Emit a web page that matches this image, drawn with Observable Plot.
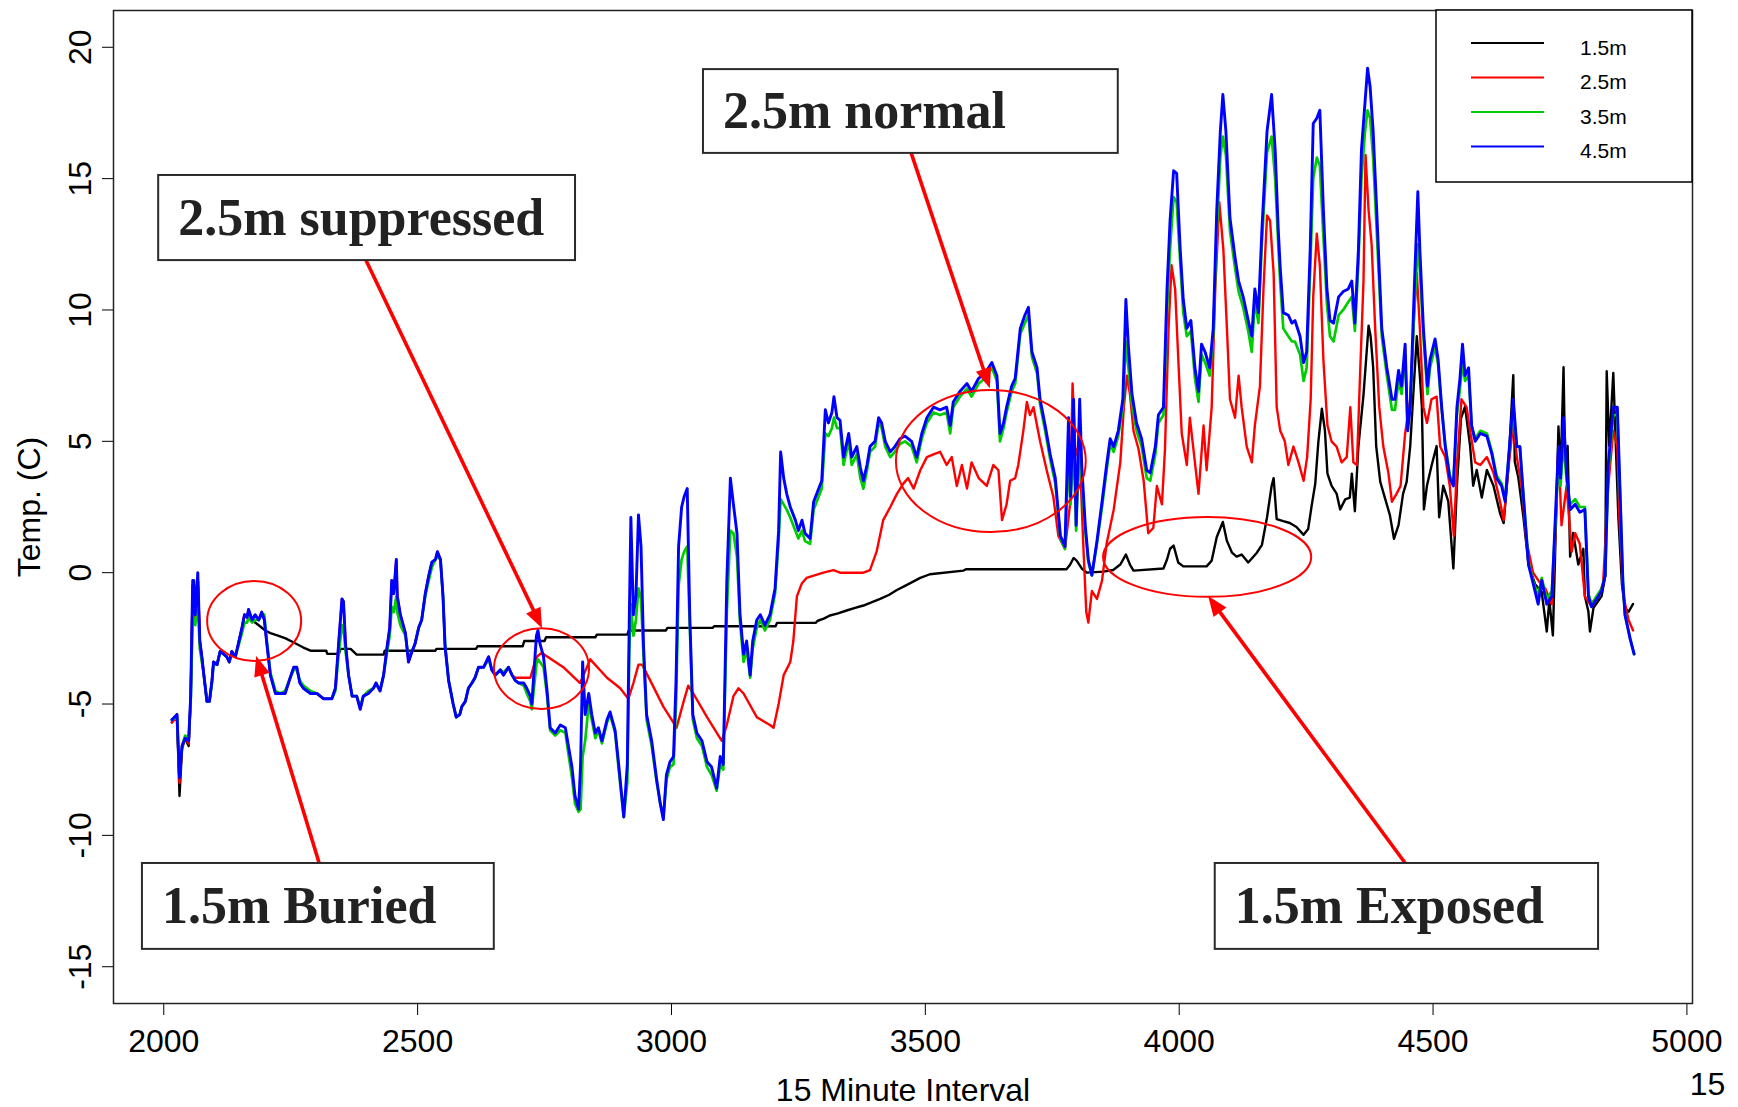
<!DOCTYPE html>
<html><head><meta charset="utf-8">
<script src="https://cdn.jsdelivr.net/npm/d3@7"></script>
<script src="https://cdn.jsdelivr.net/npm/@observablehq/plot@0.6"></script>
<style>body{margin:0;background:#fff}</style>
</head><body><div id="chart"></div>
<script>
// ---- data: [15-minute interval, temperature C] ----
const blue = [[2016,-5.6],[2026,-5.4],[2031,-7.8],[2036,-6.6],[2042,-6.3],[2049,-6.4],[2053,-4.7],[2057,-0.3],[2059,-0.3],[2062,-1.6],[2067,0.0],[2071,-2.6],[2075,-3.2],[2079,-3.9],[2085,-4.9],[2090,-4.9],[2095,-4.1],[2098,-3.4],[2105,-3.5],[2111,-3.0],[2118,-3.1],[2124,-3.2],[2129,-3.4],[2134,-3.0],[2141,-3.2],[2147,-2.7],[2154,-2.1],[2159,-1.6],[2164,-1.7],[2167,-1.4],[2174,-1.8],[2180,-1.6],[2187,-1.8],[2193,-1.5],[2198,-1.8],[2203,-2.7],[2210,-3.9],[2220,-4.6],[2229,-4.6],[2239,-4.6],[2249,-4.0],[2256,-3.6],[2262,-3.6],[2268,-4.2],[2275,-4.4],[2289,-4.6],[2302,-4.6],[2315,-4.8],[2331,-4.8],[2338,-4.4],[2344,-2.8],[2351,-1.0],[2354,-1.1],[2358,-2.7],[2364,-3.9],[2371,-4.7],[2380,-4.7],[2387,-5.2],[2393,-4.7],[2403,-4.6],[2413,-4.4],[2418,-4.2],[2426,-4.5],[2433,-3.9],[2440,-2.8],[2445,-2.1],[2449,-0.3],[2453,-0.8],[2458,0.5],[2460,-0.9],[2466,-1.6],[2476,-2.3],[2482,-3.4],[2489,-3.0],[2495,-2.7],[2502,-2.1],[2508,-1.8],[2515,-0.8],[2522,-0.1],[2528,0.4],[2535,0.5],[2539,0.8],[2545,0.5],[2550,-0.9],[2554,-2.8],[2561,-4.1],[2570,-5.0],[2576,-5.5],[2583,-5.4],[2587,-5.1],[2594,-4.9],[2600,-4.4],[2607,-4.2],[2613,-4.0],[2620,-3.6],[2630,-3.6],[2640,-3.2],[2646,-3.7],[2653,-3.9],[2663,-3.7],[2669,-3.9],[2679,-3.6],[2686,-3.9],[2692,-4.1],[2699,-4.2],[2709,-4.2],[2715,-4.4],[2722,-4.7],[2725,-5.0],[2728,-4.1],[2734,-2.4],[2737,-2.2],[2741,-2.7],[2748,-3.2],[2755,-4.5],[2761,-5.9],[2771,-6.1],[2781,-5.8],[2791,-5.9],[2797,-6.6],[2804,-7.4],[2810,-8.5],[2817,-9.0],[2821,-7.3],[2825,-3.4],[2830,-5.4],[2837,-4.6],[2843,-5.4],[2850,-6.1],[2856,-5.9],[2863,-6.4],[2873,-5.6],[2879,-5.3],[2889,-6.0],[2896,-7.3],[2906,-9.3],[2913,-7.3],[2917,-1.6],[2920,2.1],[2925,-1.6],[2930,-0.9],[2935,2.2],[2940,1.0],[2945,-2.8],[2951,-5.4],[2961,-6.4],[2971,-7.9],[2978,-8.8],[2984,-9.4],[2990,-7.7],[2997,-7.2],[3004,-7.0],[3009,-4.1],[3014,1.0],[3020,2.5],[3025,2.9],[3031,3.2],[3036,-1.6],[3042,-5.4],[3050,-6.1],[3060,-6.4],[3070,-7.2],[3079,-7.4],[3089,-8.2],[3096,-7.0],[3102,-7.3],[3109,-0.3],[3116,3.6],[3122,2.6],[3129,1.5],[3135,-1.6],[3142,-3.1],[3148,-2.6],[3155,-3.9],[3160,-2.6],[3168,-1.8],[3175,-1.6],[3184,-2.0],[3194,-1.6],[3204,-0.6],[3211,1.6],[3215,4.6],[3221,3.6],[3227,3.0],[3234,2.5],[3244,2.0],[3250,1.6],[3257,2.0],[3263,1.5],[3273,1.3],[3280,2.7],[3286,3.0],[3296,3.5],[3303,6.2],[3309,5.7],[3316,6.1],[3320,6.7],[3326,5.9],[3332,5.8],[3339,4.4],[3349,5.3],[3355,4.4],[3365,4.8],[3372,4.0],[3378,3.5],[3385,4.1],[3391,4.8],[3401,5.0],[3408,5.9],[3414,5.7],[3421,5.0],[3431,4.6],[3440,4.8],[3450,5.1],[3460,5.2],[3473,5.0],[3483,4.4],[3493,5.3],[3503,5.9],[3516,6.3],[3529,6.2],[3542,6.3],[3549,5.6],[3555,6.5],[3568,6.9],[3582,7.2],[3591,6.9],[3605,7.4],[3618,7.6],[3631,8.0],[3641,7.5],[3647,5.3],[3654,5.7],[3660,6.3],[3670,7.1],[3677,7.4],[3687,9.3],[3696,9.8],[3703,10.1],[3710,8.4],[3720,7.8],[3726,6.6],[3736,5.6],[3746,4.5],[3756,3.6],[3766,1.4],[3775,1.0],[3782,5.9],[3786,2.9],[3792,6.6],[3797,1.8],[3804,6.6],[3808,4.1],[3815,1.8],[3821,0.5],[3828,-0.1],[3838,1.2],[3848,2.7],[3857,4.1],[3864,5.1],[3871,4.8],[3880,5.4],[3889,6.6],[3895,10.4],[3900,8.6],[3907,6.8],[3916,5.7],[3926,5.1],[3936,3.9],[3943,3.8],[3953,4.8],[3959,6.0],[3969,6.3],[3976,10.8],[3982,13.4],[3989,15.3],[3995,15.2],[4002,12.3],[4008,10.4],[4015,9.3],[4023,9.6],[4031,7.8],[4038,6.9],[4044,8.7],[4051,8.4],[4060,7.8],[4067,9.3],[4074,13.8],[4081,16.8],[4086,18.2],[4092,16.8],[4100,13.5],[4110,12.0],[4117,11.1],[4126,10.5],[4136,9.6],[4143,9.0],[4149,10.8],[4156,9.9],[4163,13.1],[4173,16.8],[4182,18.2],[4189,16.1],[4195,13.1],[4199,11.6],[4205,9.9],[4215,9.8],[4222,9.5],[4228,9.6],[4238,9.0],[4245,8.0],[4251,8.4],[4258,12.3],[4264,17.1],[4271,17.3],[4277,17.6],[4284,13.8],[4291,10.8],[4297,9.6],[4304,9.5],[4314,10.5],[4323,10.7],[4333,10.8],[4340,11.1],[4346,9.5],[4353,12.3],[4359,16.1],[4366,17.9],[4371,19.2],[4376,18.5],[4382,16.8],[4389,13.8],[4399,9.3],[4409,7.8],[4419,6.6],[4425,6.6],[4432,7.7],[4438,7.1],[4445,8.7],[4450,5.4],[4455,6.3],[4463,10.8],[4470,14.5],[4474,12.3],[4481,9.3],[4489,7.1],[4494,8.1],[4504,8.9],[4510,8.1],[4517,6.3],[4524,4.8],[4533,3.6],[4540,3.3],[4547,6.3],[4553,7.4],[4558,8.7],[4563,7.5],[4570,7.8],[4576,5.6],[4583,5.0],[4593,5.3],[4606,5.2],[4616,4.5],[4625,3.6],[4635,3.3],[4642,2.7],[4648,4.2],[4658,6.6],[4665,4.8],[4671,4.8],[4678,2.9],[4688,0.3],[4697,-0.4],[4707,-1.2],[4714,-0.3],[4724,-1.2],[4734,-0.9],[4742,2.6],[4747,4.8],[4751,3.6],[4757,5.9],[4763,3.8],[4770,2.4],[4780,2.6],[4789,2.3],[4799,2.4],[4806,-0.9],[4812,-1.3],[4822,-1.0],[4832,-0.7],[4839,-0.1],[4845,4.1],[4855,6.3],[4863,6.3],[4868,3.3],[4874,-0.4],[4878,-1.6],[4888,-2.5],[4896,-3.1]];

const green = [[2016,-5.6],[2026,-5.5],[2031,-7.6],[2036,-6.6],[2042,-6.2],[2049,-6.3],[2053,-5.0],[2057,-1.6],[2059,-1.8],[2062,-2.0],[2067,-1.2],[2071,-2.9],[2075,-3.4],[2079,-3.9],[2085,-4.9],[2090,-4.9],[2095,-4.2],[2098,-3.5],[2105,-3.5],[2111,-3.0],[2118,-3.1],[2124,-3.2],[2129,-3.4],[2134,-3.1],[2141,-3.2],[2147,-2.8],[2154,-2.3],[2159,-1.9],[2164,-1.9],[2167,-1.7],[2174,-1.9],[2180,-1.8],[2187,-1.8],[2193,-1.6],[2198,-1.6],[2203,-2.6],[2210,-3.8],[2220,-4.5],[2229,-4.6],[2239,-4.5],[2249,-4.0],[2256,-3.7],[2262,-3.7],[2268,-4.1],[2275,-4.3],[2289,-4.5],[2302,-4.6],[2315,-4.8],[2331,-4.8],[2338,-4.5],[2344,-3.2],[2351,-2.0],[2354,-2.1],[2358,-3.0],[2364,-3.9],[2371,-4.7],[2380,-4.7],[2387,-5.1],[2393,-4.7],[2403,-4.5],[2413,-4.4],[2418,-4.2],[2426,-4.5],[2433,-3.9],[2440,-3.0],[2445,-2.4],[2449,-1.3],[2453,-1.5],[2458,-0.9],[2460,-1.5],[2466,-2.0],[2476,-2.4],[2482,-3.2],[2489,-3.0],[2495,-2.7],[2502,-2.1],[2508,-1.8],[2515,-0.9],[2522,-0.3],[2528,0.2],[2535,0.5],[2539,0.6],[2545,0.5],[2550,-0.9],[2554,-2.7],[2561,-4.1],[2570,-5.0],[2576,-5.5],[2583,-5.4],[2587,-5.1],[2594,-4.9],[2600,-4.4],[2607,-4.2],[2613,-4.0],[2620,-3.6],[2630,-3.6],[2640,-3.3],[2646,-3.7],[2653,-3.9],[2663,-3.7],[2669,-3.8],[2679,-3.6],[2686,-3.9],[2692,-4.1],[2699,-4.2],[2709,-4.3],[2715,-4.6],[2722,-4.9],[2725,-5.2],[2728,-4.6],[2734,-3.5],[2737,-3.3],[2741,-3.4],[2748,-3.6],[2755,-4.7],[2761,-6.0],[2771,-6.2],[2781,-6.0],[2791,-6.1],[2797,-6.9],[2804,-7.8],[2810,-8.8],[2817,-9.1],[2821,-9.0],[2825,-7.0],[2830,-6.4],[2837,-5.0],[2843,-5.6],[2850,-6.3],[2856,-6.0],[2863,-6.5],[2873,-5.7],[2879,-5.4],[2889,-6.1],[2896,-7.5],[2906,-9.3],[2913,-8.0],[2917,-3.0],[2920,-1.2],[2925,-2.4],[2930,-1.8],[2935,-0.6],[2940,-1.0],[2945,-3.2],[2951,-5.6],[2961,-6.6],[2971,-8.0],[2978,-8.8],[2984,-9.3],[2990,-7.9],[2997,-7.4],[3004,-7.3],[3009,-5.0],[3014,-0.5],[3020,0.5],[3025,0.8],[3031,1.0],[3036,-2.0],[3042,-5.6],[3050,-6.3],[3060,-6.6],[3070,-7.4],[3079,-7.7],[3089,-8.3],[3096,-7.3],[3102,-7.5],[3109,-1.5],[3116,1.6],[3122,1.5],[3129,0.6],[3135,-1.9],[3142,-3.4],[3148,-2.9],[3155,-4.0],[3160,-2.9],[3168,-2.1],[3175,-1.8],[3184,-2.2],[3194,-1.8],[3204,-0.8],[3211,1.2],[3215,2.8],[3221,2.6],[3227,2.4],[3234,2.1],[3244,1.6],[3250,1.3],[3257,1.6],[3263,1.2],[3273,1.1],[3280,2.4],[3286,2.7],[3296,3.2],[3303,5.3],[3309,5.2],[3316,5.5],[3320,5.9],[3326,5.5],[3332,5.5],[3339,4.1],[3349,5.0],[3355,4.1],[3365,4.5],[3372,3.6],[3378,3.2],[3385,3.9],[3391,4.6],[3401,4.8],[3408,5.7],[3414,5.5],[3421,4.8],[3431,4.4],[3440,4.6],[3450,4.9],[3460,5.0],[3473,4.8],[3483,4.2],[3493,5.1],[3503,5.7],[3516,6.1],[3529,6.0],[3542,6.1],[3549,5.3],[3555,6.3],[3568,6.7],[3582,7.0],[3591,6.7],[3605,7.2],[3618,7.4],[3631,7.8],[3641,7.3],[3647,5.0],[3654,5.5],[3660,6.1],[3670,6.9],[3677,7.2],[3687,9.1],[3696,9.5],[3703,9.8],[3710,8.2],[3720,7.6],[3726,6.4],[3736,5.4],[3746,4.3],[3756,3.4],[3766,1.3],[3775,0.9],[3782,4.5],[3786,2.6],[3792,5.0],[3797,1.6],[3804,5.0],[3808,3.6],[3815,1.6],[3821,0.4],[3828,-0.1],[3838,1.1],[3848,2.5],[3857,3.9],[3864,4.9],[3871,4.6],[3880,5.2],[3889,6.3],[3895,8.8],[3900,7.8],[3907,6.4],[3916,5.4],[3926,4.8],[3936,3.6],[3943,3.5],[3953,4.5],[3959,5.7],[3969,6.0],[3976,10.0],[3982,12.3],[3989,14.3],[3995,14.1],[4002,11.8],[4008,9.9],[4015,9.0],[4023,9.2],[4031,7.4],[4038,6.5],[4044,8.3],[4051,8.0],[4060,7.5],[4067,9.0],[4074,13.0],[4081,15.8],[4086,16.6],[4092,15.9],[4100,13.0],[4110,11.6],[4117,10.7],[4126,10.1],[4136,9.2],[4143,8.4],[4149,10.4],[4156,9.5],[4163,12.6],[4173,16.0],[4182,16.6],[4189,15.0],[4195,12.5],[4199,11.0],[4205,9.3],[4215,9.0],[4222,8.8],[4228,8.8],[4238,8.3],[4245,7.3],[4251,7.8],[4258,11.5],[4264,15.0],[4271,15.8],[4277,15.5],[4284,12.8],[4291,10.2],[4297,9.0],[4304,8.8],[4314,9.8],[4323,10.0],[4333,10.3],[4340,10.5],[4346,9.2],[4353,11.8],[4359,15.0],[4366,16.8],[4371,17.6],[4376,17.3],[4382,15.8],[4389,13.0],[4399,9.0],[4409,7.5],[4419,6.2],[4425,6.2],[4432,7.3],[4438,6.8],[4445,8.3],[4450,5.6],[4455,6.2],[4463,10.0],[4470,12.5],[4474,11.5],[4481,9.0],[4489,6.8],[4494,7.8],[4504,8.6],[4510,7.9],[4517,6.2],[4524,4.9],[4533,3.7],[4540,3.4],[4547,6.0],[4553,7.0],[4558,8.0],[4563,7.3],[4570,7.5],[4576,5.6],[4583,5.1],[4593,5.4],[4606,5.3],[4616,4.6],[4625,3.7],[4635,3.4],[4642,2.8],[4648,4.2],[4658,6.3],[4665,4.8],[4671,4.8],[4678,2.9],[4688,0.4],[4697,-0.3],[4707,-0.9],[4714,-0.2],[4724,-1.0],[4734,-0.7],[4742,2.2],[4747,4.3],[4751,3.3],[4757,5.0],[4763,3.5],[4770,2.6],[4780,2.8],[4789,2.5],[4799,2.5],[4806,-0.8],[4812,-1.2],[4822,-0.9],[4832,-0.6],[4839,-0.1],[4845,3.8],[4855,6.0],[4863,6.0],[4868,3.1],[4874,-0.4],[4878,-1.6],[4888,-2.5],[4896,-3.1]];

const red = [[2016,-5.7],[2026,-5.5],[2031,-8.0],[2036,-6.6],[2042,-6.3],[2049,-6.5],[2053,-4.8],[2057,-0.5],[2059,-0.5],[2062,-1.7],[2067,-0.2],[2071,-2.6],[2075,-3.2],[2079,-3.9],[2085,-4.9],[2090,-4.9],[2095,-4.1],[2098,-3.4],[2105,-3.5],[2111,-3.0],[2118,-3.1],[2124,-3.2],[2129,-3.4],[2134,-3.0],[2141,-3.2],[2147,-2.7],[2154,-2.1],[2159,-1.6],[2164,-1.7],[2167,-1.4],[2174,-1.8],[2180,-1.6],[2187,-1.8],[2193,-1.5],[2198,-1.8],[2203,-2.7],[2210,-3.9],[2220,-4.6],[2229,-4.6],[2239,-4.6],[2249,-4.0],[2256,-3.6],[2262,-3.6],[2268,-4.2],[2275,-4.4],[2289,-4.6],[2302,-4.6],[2315,-4.8],[2331,-4.8],[2338,-4.4],[2344,-2.8],[2351,-1.0],[2354,-1.1],[2358,-2.7],[2364,-3.9],[2371,-4.7],[2380,-4.7],[2387,-5.2],[2393,-4.7],[2403,-4.6],[2413,-4.4],[2418,-4.2],[2426,-4.5],[2433,-3.9],[2440,-2.8],[2445,-2.1],[2449,-0.3],[2453,-0.8],[2458,0.5],[2460,-0.9],[2466,-1.6],[2476,-2.3],[2482,-3.4],[2489,-3.0],[2495,-2.7],[2502,-2.1],[2508,-1.8],[2515,-0.8],[2522,-0.1],[2528,0.4],[2535,0.5],[2539,0.8],[2545,0.5],[2550,-0.9],[2554,-2.8],[2561,-4.1],[2570,-5.0],[2576,-5.5],[2583,-5.4],[2587,-5.1],[2594,-4.9],[2600,-4.4],[2607,-4.2],[2613,-4.0],[2620,-3.6],[2630,-3.6],[2640,-3.2],[2646,-3.7],[2653,-3.9],[2663,-3.7],[2669,-3.9],[2679,-3.6],[2686,-3.9],[2692,-4.0],[2722,-4.0],[2728,-3.6],[2735,-3.2],[2744,-3.05],[2787,-3.6],[2820,-4.2],[2840,-3.3],[2873,-4.0],[2899,-4.4],[2915,-4.8],[2925,-4.2],[2935,-3.5],[2942,-3.5],[2958,-4.1],[2984,-5.1],[3010,-5.9],[3024,-4.9],[3033,-4.3],[3043,-4.6],[3070,-5.5],[3099,-6.4],[3109,-5.8],[3122,-4.7],[3132,-4.4],[3142,-4.6],[3168,-5.5],[3194,-5.8],[3201,-5.9],[3211,-5.0],[3221,-3.9],[3234,-3.4],[3240,-2.6],[3247,-0.9],[3257,-0.4],[3266,-0.2],[3299,0.0],[3319,0.1],[3332,0.0],[3378,0.0],[3391,0.1],[3404,0.8],[3417,2.0],[3431,2.5],[3444,3.0],[3457,3.4],[3466,3.6],[3477,3.2],[3490,3.9],[3503,4.4],[3516,4.5],[3529,4.6],[3542,4.1],[3552,4.4],[3562,3.3],[3572,4.1],[3582,3.2],[3591,4.2],[3605,3.6],[3621,3.3],[3634,4.1],[3644,3.9],[3651,2.0],[3660,2.6],[3667,3.5],[3677,3.6],[3683,4.1],[3693,5.4],[3700,6.5],[3706,6.0],[3713,6.3],[3726,5.0],[3739,3.9],[3752,2.9],[3762,1.4],[3775,0.9],[3785,2.6],[3790,7.2],[3795,4.8],[3805,4.1],[3811,1.1],[3817,-1.5],[3821,-1.9],[3828,-0.7],[3838,-1.0],[3848,-0.3],[3857,1.1],[3871,2.4],[3884,4.2],[3891,6.3],[3897,7.5],[3903,6.8],[3910,5.4],[3920,4.7],[3930,3.5],[3939,1.5],[3949,1.7],[3956,3.3],[3966,2.6],[3972,4.7],[3979,9.3],[3985,11.7],[3992,10.8],[3999,7.8],[4005,5.3],[4015,4.1],[4021,5.9],[4028,4.7],[4038,3.0],[4048,5.6],[4054,3.9],[4064,6.3],[4071,10.8],[4079,14.1],[4087,12.3],[4094,9.3],[4100,6.6],[4110,5.9],[4117,7.5],[4123,6.3],[4133,4.8],[4143,4.2],[4149,5.6],[4159,7.1],[4166,10.8],[4173,13.6],[4179,13.4],[4186,11.4],[4192,6.3],[4199,5.4],[4208,5.0],[4215,4.1],[4225,4.8],[4235,4.2],[4245,3.5],[4252,4.4],[4259,6.6],[4264,10.5],[4271,12.9],[4277,11.7],[4284,8.1],[4292,5.6],[4300,5.0],[4310,4.8],[4320,4.2],[4330,4.4],[4337,6.3],[4343,4.2],[4350,4.1],[4356,7.4],[4363,11.1],[4367,15.9],[4373,13.8],[4379,12.5],[4386,9.3],[4394,6.3],[4402,4.8],[4412,3.8],[4419,2.7],[4428,3.0],[4436,3.3],[4445,5.3],[4455,6.6],[4463,9.9],[4468,11.4],[4474,9.3],[4481,6.3],[4488,5.7],[4497,6.6],[4507,6.7],[4514,4.8],[4524,4.4],[4533,3.3],[4541,1.4],[4547,4.1],[4556,6.6],[4566,6.3],[4573,5.4],[4583,4.2],[4593,4.1],[4606,4.4],[4619,3.8],[4632,2.7],[4639,2.0],[4648,3.9],[4658,5.7],[4665,4.4],[4675,3.2],[4684,1.2],[4697,0.0],[4711,-0.4],[4721,-0.6],[4734,-1.2],[4740,1.1],[4747,4.8],[4753,1.8],[4763,3.3],[4773,0.8],[4780,1.5],[4789,1.1],[4799,-0.9],[4809,-1.2],[4826,-0.9],[4835,-0.4],[4845,3.3],[4855,5.4],[4863,4.8],[4867,2.1],[4875,-0.9],[4885,-1.8],[4894,-2.2]];

const black = [[2016,-5.7],[2026,-5.4],[2031,-8.5],[2036,-6.7],[2042,-6.3],[2049,-6.6],[2053,-4.8],[2057,-0.5],[2059,-0.5],[2062,-1.7],[2067,-0.2],[2071,-2.6],[2075,-3.2],[2079,-3.9],[2085,-4.9],[2090,-4.9],[2095,-4.1],[2098,-3.4],[2105,-3.5],[2111,-3.0],[2118,-3.1],[2124,-3.2],[2129,-3.4],[2134,-3.0],[2141,-3.2],[2147,-2.7],[2154,-2.1],[2159,-1.6],[2164,-1.7],[2167,-1.5],[2174,-1.8],[2180,-1.9],[2187,-2.0],[2200,-2.2],[2210,-2.3],[2225,-2.4],[2240,-2.5],[2255,-2.65],[2275,-2.85],[2289,-2.97],[2320,-2.97],[2322,-3.09],[2345,-3.09],[2348,-2.9],[2368,-2.9],[2380,-3.12],[2433,-3.12],[2435,-2.97],[2535,-2.97],[2537,-2.9],[2615,-2.9],[2618,-2.8],[2707,-2.8],[2710,-2.6],[2750,-2.6],[2753,-2.46],[2850,-2.46],[2853,-2.36],[2913,-2.36],[2916,-2.2],[2989,-2.2],[2992,-2.1],[3081,-2.1],[3084,-2.04],[3205,-2.04],[3208,-1.91],[3284,-1.91],[3288,-1.83],[3300,-1.75],[3312,-1.63],[3328,-1.55],[3345,-1.44],[3360,-1.35],[3378,-1.25],[3395,-1.12],[3411,-1.0],[3428,-0.85],[3444,-0.66],[3460,-0.5],[3475,-0.35],[3490,-0.2],[3509,-0.06],[3575,0.08],[3580,0.13],[3778,0.13],[3785,0.3],[3792,0.56],[3798,0.46],[3808,0.16],[3818,0.0],[3851,0.04],[3870,0.1],[3884,0.31],[3895,0.69],[3903,0.31],[3910,0.08],[3969,0.16],[3976,0.5],[3982,0.91],[3989,1.03],[3998,0.39],[4008,0.24],[4054,0.24],[4064,0.46],[4074,1.36],[4086,1.93],[4094,1.21],[4104,0.76],[4113,0.61],[4123,0.69],[4136,0.39],[4153,0.76],[4163,1.06],[4173,2.11],[4182,3.3],[4186,3.6],[4192,2.04],[4205,1.96],[4218,1.89],[4231,1.74],[4245,1.44],[4254,1.66],[4261,2.56],[4268,3.39],[4274,4.96],[4281,6.24],[4287,5.42],[4292,3.77],[4300,3.31],[4310,3.01],[4317,2.41],[4327,2.79],[4336,2.86],[4340,3.77],[4346,2.34],[4353,4.82],[4363,6.77],[4373,9.4],[4377,9.0],[4382,7.83],[4388,4.82],[4396,3.46],[4405,2.86],[4415,2.19],[4423,1.29],[4432,1.81],[4441,3.01],[4448,3.46],[4455,4.82],[4461,6.77],[4468,9.0],[4474,7.5],[4478,6.3],[4482,2.41],[4488,3.31],[4497,4.07],[4507,4.82],[4512,2.11],[4520,3.31],[4530,2.71],[4540,0.16],[4547,3.31],[4555,5.87],[4563,6.32],[4573,4.82],[4579,3.31],[4586,3.91],[4596,2.86],[4606,3.91],[4619,3.31],[4632,2.26],[4639,1.89],[4648,3.91],[4658,7.52],[4661,4.22],[4668,3.61],[4678,2.11],[4688,0.31],[4701,-0.44],[4714,-0.74],[4724,-2.24],[4729,-1.04],[4736,-2.39],[4742,1.81],[4747,5.57],[4751,3.61],[4757,7.82],[4760,4.22],[4765,4.82],[4770,0.61],[4776,1.51],[4786,0.31],[4796,0.91],[4799,-0.89],[4806,-1.49],[4809,-2.24],[4816,-1.34],[4832,-0.89],[4839,-0.14],[4842,7.67],[4847,4.82],[4855,7.6],[4860,4.82],[4865,2.11],[4872,-0.44],[4878,-1.34],[4885,-1.49],[4894,-1.19]];

const seriesNames = ["1.5m", "2.5m", "3.5m", "4.5m"];
const seriesColors = ["#000000", "#FF0000", "#00CD00", "#0000FF"];
const xTicks = [2000, 2500, 3000, 3500, 4000, 4500, 5000];
const yTicks = [-15, -10, -5, 0, 5, 10, 15, 20];

// annotation anchors in data units
const annoBoxes = [
  {text: "2.5m normal",     x1: 3063, x2: 3880, y1: 19.15, y2: 15.96},
  {text: "2.5m suppressed", x1: 1990, x2: 2811, y1: 15.12, y2: 11.88},
  {text: "1.5m Buried",     x1: 1958, x2: 2651, y1: -11.07, y2: -14.34},
  {text: "1.5m Exposed",    x1: 4071, x2: 4826, y1: -11.07, y2: -14.34}
];
const annoArrows = [
  {x1: 3473, y1: 15.96, x2: 3628, y2: 7.0},
  {x1: 2399, y1: 11.88, x2: 2746, y2: -2.13},
  {x1: 2307, y1: -11.07, x2: 2183, y2: -3.19},
  {x1: 4446, y1: -11.07, x2: 4058, y2: -0.91}
];
const annoEllipses = [
  {x: 2179, y: -1.86, rx: 92.6, ry: 1.52},
  {x: 2745, y: -3.67, rx: 93.6, ry: 1.54},
  {x: 3630, y: 4.23, rx: 187, ry: 2.70},
  {x: 4056, y: 0.58, rx: 205, ry: 1.52}
];

const toRows = (arr, s) => arr.map(([x, t]) => ({x, t, s}));
const sans = "'Liberation Sans', Arial, Helvetica, sans-serif";

const plot = Plot.plot({
  width: 1738, height: 1107,
  marginLeft: 113, marginRight: 46, marginTop: 10, marginBottom: 104,
  style: {fontFamily: sans, background: "#fff", color: "#000"},
  x: {domain: [1901, 5011]},
  y: {domain: [-16.4, 21.4]},
  color: {domain: seriesNames, range: seriesColors},
  marks: [
    Plot.line(toRows(black, "1.5m"), {x: "x", y: "t", stroke: "s", strokeWidth: 2.4}),
    Plot.line(toRows(red, "2.5m"), {x: "x", y: "t", stroke: "s", strokeWidth: 2.4}),
    Plot.line(toRows(green, "3.5m"), {x: "x", y: "t", stroke: "s", strokeWidth: 2.7}),
    Plot.line(toRows(blue, "4.5m"), {x: "x", y: "t", stroke: "s", strokeWidth: 2.9}),
    Plot.axisX({ticks: xTicks, tickSize: 12, tickPadding: 14, fontSize: 32, tickFormat: d => String(d), label: null}),
    Plot.axisY({ticks: yTicks, tickSize: 11, tickPadding: 12, tickRotate: -90, fontSize: 32, tickFormat: d => String(d), label: null}),
    Plot.frame({stroke: "#222", strokeWidth: 1.5}),
    Plot.text(["15 Minute Interval"], {frameAnchor: "bottom", dy: 87, fontSize: 32, lineAnchor: "middle", textAnchor: "middle"}),
    Plot.text(["Temp. (C)"], {frameAnchor: "left", dx: -84, rotate: -90, fontSize: 32, lineAnchor: "middle", textAnchor: "middle"}),
    Plot.text(["15"], {frameAnchor: "bottom-right", dx: 15, dy: 81, fontSize: 32, lineAnchor: "middle", textAnchor: "middle"})
  ]
});

document.getElementById("chart").appendChild(plot);

// ---- annotations & legend ----
const svg = d3.select(plot);
const sx = plot.scale("x"), sy = plot.scale("y");
const X = v => sx.apply(v), Y = v => sy.apply(v);
const g = svg.append("g").attr("text-anchor", "start");

for (const e of annoEllipses) {
  g.append("ellipse")
    .attr("cx", X(e.x)).attr("cy", Y(e.y))
    .attr("rx", X(e.x + e.rx) - X(e.x)).attr("ry", Y(e.y - e.ry) - Y(e.y))
    .attr("fill", "none").attr("stroke", "#FF0000").attr("stroke-width", 2);
}
for (const a of annoArrows) {
  const x1 = X(a.x1), y1 = Y(a.y1), x2 = X(a.x2), y2 = Y(a.y2);
  const dx = x2 - x1, dy = y2 - y1, L = Math.hypot(dx, dy);
  const ux = dx / L, uy = dy / L, hl = 20, hw = 8;
  const bx = x2 - ux * hl, by = y2 - uy * hl;
  g.append("line").attr("x1", x1).attr("y1", y1).attr("x2", bx + ux * 2).attr("y2", by + uy * 2)
    .attr("stroke", "#FF0000").attr("stroke-width", 3.6);
  g.append("path")
    .attr("d", `M${x2},${y2}L${bx - uy * hw},${by + ux * hw}L${bx + uy * hw},${by - ux * hw}Z`)
    .attr("fill", "#FF0000");
}
for (const b of annoBoxes) {
  const x1 = X(b.x1), x2 = X(b.x2), y1 = Y(b.y1), y2 = Y(b.y2);
  g.append("rect").attr("x", x1).attr("y", y1).attr("width", x2 - x1).attr("height", y2 - y1)
    .attr("fill", "#fff").attr("stroke", "#2a2a2a").attr("stroke-width", 2);
  g.append("text").attr("x", x1 + 20).attr("y", (y1 + y2) / 2 + 17)
    .attr("text-anchor", "start")
    .attr("font-family", "'Liberation Serif', 'Times New Roman', serif")
    .attr("font-weight", "bold").attr("font-size", 52).attr("fill", "#222")
    .text(b.text);
}

// legend in the top-right corner of the frame
const fr = 1738 - 46, ft = 10;
const lg = svg.append("g").attr("text-anchor", "start");
lg.append("rect").attr("x", fr - 256).attr("y", ft).attr("width", 256).attr("height", 172)
  .attr("fill", "#fff").attr("stroke", "#000").attr("stroke-width", 1.5);
seriesNames.forEach((name, i) => {
  const yy = ft + 33 + i * 34.5;
  lg.append("line").attr("x1", fr - 221).attr("x2", fr - 148).attr("y1", yy).attr("y2", yy)
    .attr("stroke", seriesColors[i]).attr("stroke-width", 2.2);
  lg.append("text").attr("x", fr - 112).attr("y", yy + 11.5).attr("text-anchor", "start")
    .attr("font-family", sans).attr("font-size", 21).attr("fill", "#000").text(name);
});
</script>
</body></html>
